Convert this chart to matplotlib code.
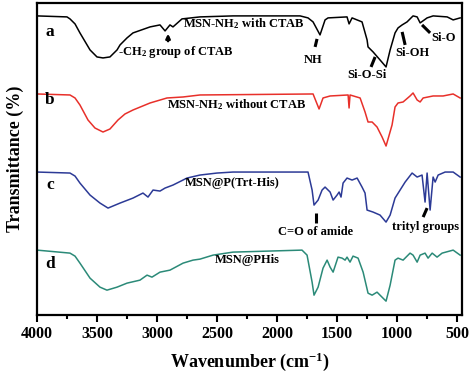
import matplotlib
matplotlib.use("Agg")
import matplotlib.pyplot as plt

plt.rcParams["font.family"] = ["Liberation Serif", "DejaVu Serif"]
plt.rcParams["font.weight"] = "bold"
plt.rcParams["mathtext.fontset"] = "custom"
plt.rcParams["mathtext.rm"] = "Liberation Serif:bold"
plt.rcParams["mathtext.bf"] = "Liberation Serif:bold"
plt.rcParams["mathtext.it"] = "Liberation Serif:italic:bold"

# spectra (wavenumber, transmittance in arbitrary offset units)
wn_a = [4000, 3750, 3725, 3683, 3642, 3558, 3500, 3450, 3392, 3333, 3308, 3250, 3200, 3058, 2975, 2933, 2892,
        2867, 2792, 2642, 2367, 1808, 1742, 1700, 1642, 1600, 1575, 1417, 1400, 1375, 1292, 1250,
        1242, 1200, 1142, 1092, 1058, 1017, 992, 958, 917, 867, 833, 808, 750, 700, 583, 533, 475]
t_a = [299, 298, 296, 291, 282, 265, 258, 257, 258, 265, 270, 277, 282, 288, 290, 284, 290,
       288, 296, 298, 299, 299, 297, 293, 280, 295, 297, 298, 291, 297, 293, 275,
       268, 263, 255, 248, 265, 282, 287, 290, 293, 299, 298, 292, 297, 299, 298, 295, 297]

wn_b = [4000, 3725, 3683, 3642, 3575, 3517, 3450, 3392, 3325, 3267, 3200, 3058, 2917, 2783, 2642, 1700, 1650,
        1617, 1558, 1408, 1400, 1392, 1308, 1267, 1242, 1208, 1167, 1125, 1092, 1042, 1017, 992,
        950, 892, 867, 833, 808, 783, 700, 617, 533, 475]
t_b = [221, 220, 217, 210, 195, 187, 183, 186, 195, 201, 205, 212, 217, 218, 220, 221, 206,
       217, 219, 220, 207, 220, 217, 203, 193, 193, 188, 178, 169, 190, 208, 212,
       213, 219, 222, 215, 213, 217, 219, 219, 221, 217]

wn_c = [4000, 3725, 3683, 3642, 3558, 3475, 3408, 3308, 3200, 3117, 3075, 3033, 2975, 2933, 2867, 2750,
        2642, 2500, 2367, 1742, 1708, 1692, 1658, 1625, 1600, 1558, 1533, 1500, 1483, 1467, 1450,
        1417, 1375, 1333, 1292, 1267, 1250, 1200, 1142, 1092, 1058, 1017, 975, 933, 875, 833,
        792, 767, 750, 725, 700, 683, 658, 600, 533, 475]
t_c = [143, 142, 139, 132, 120, 112, 107, 112, 117, 122, 118, 125, 124, 127, 130, 137,
       140, 142, 143, 143, 125, 110, 115, 125, 128, 123, 115, 120, 123, 118, 132,
       137, 135, 137, 128, 122, 105, 103, 100, 93, 100, 117, 125, 133, 142, 138,
       140, 113, 142, 105, 138, 133, 140, 143, 143, 138]

wn_d = [4000, 3725, 3683, 3642, 3558, 3475, 3417, 3333, 3250, 3142, 3083, 3042, 2975, 2892, 2783, 2700,
        2642, 2533, 2367, 1792, 1750, 1708, 1692, 1658, 1617, 1583, 1558, 1533, 1492, 1458, 1433,
        1417, 1392, 1367, 1325, 1283, 1242, 1208, 1167, 1142, 1092, 1058, 1017, 992, 950, 892,
        867, 833, 808, 767, 742, 708, 667, 625, 533, 475]
t_d = [65, 62, 59, 52, 37, 28, 25, 28, 32, 35, 40, 38, 43, 45, 52, 55,
       56, 60, 63, 65, 60, 33, 20, 28, 47, 55, 48, 43, 58, 57, 55,
       58, 53, 59, 57, 43, 22, 20, 23, 20, 14, 30, 55, 57, 55, 62,
       60, 53, 60, 62, 57, 62, 58, 62, 65, 60]

spectra = [
    (wn_a, t_a, "black", "a"),
    (wn_b, t_b, "#e8302a", "b"),
    (wn_c, t_c, "#2c3a96", "c"),
    (wn_d, t_d, "#2b8a78", "d"),
]
letter_y = [283, 215, 130, 51]

fig = plt.figure(figsize=(4.74, 3.77), dpi=100)
ax = fig.add_axes([0.078, 0.164, 0.897, 0.827])

for (wn, t, col, lab), ly in zip(spectra, letter_y):
    ax.plot(wn, t, color=col, lw=1.1)
    ax.text(3892, ly, lab, fontsize=12.5, fontweight="bold", ha="center", va="center")

fs = 9
ax.text(2783, 291, "MSN-NH$_2$ with CTAB", fontsize=fs, ha="left", va="center")
ax.text(3325, 263, "-CH$_2$ group of CTAB", fontsize=fs, ha="left", va="center")
ax.text(1700, 255, "NH", fontsize=fs, ha="center", va="center")
ax.text(1250, 240, "Si-O-Si", fontsize=fs, ha="center", va="center")
ax.text(875, 262, "Si-OH", fontsize=fs, ha="center", va="center")
ax.text(617, 277, "Si-O", fontsize=fs, ha="center", va="center")
ax.text(2917, 210, "MSN-NH$_2$ without CTAB", fontsize=fs, ha="left", va="center")
ax.text(2767, 132, "MSN@P(Trt-His)", fontsize=fs, ha="left", va="center")
ax.text(1683, 83, "C=O of amide", fontsize=fs, ha="center", va="center")
ax.text(767, 88, "trityl groups", fontsize=fs, ha="center", va="center")
ax.text(2517, 55, "MSN@PHis", fontsize=fs, ha="left", va="center")

# pointer marks
ax.annotate("", xy=(2908, 284), xytext=(2908, 271),
            arrowprops=dict(arrowstyle="-|>", color="black", lw=1.8, mutation_scale=6))
marks = [
    ((1667, 276), (1683, 268)),
    ((1183, 258), (1217, 248)),
    ((958, 283), (933, 270)),
    ((792, 290), (725, 282)),
    ((1675, 102), (1675, 92)),
    ((750, 107), (783, 98)),
]
for p0, p1 in marks:
    ax.plot([p0[0], p1[0]], [p0[1], p1[1]], color="black", lw=2.2, solid_capstyle="butt")

ax.set_xlim(4000, 458)
ax.set_ylim(0, 311.5)
ax.set_xticks([4000, 3500, 3000, 2500, 2000, 1500, 1000, 500])
ax.set_xticks([3750, 3250, 2750, 2250, 1750, 1250, 750], minor=True)
ax.set_yticks([])
ax.tick_params(axis="x", which="major", direction="out", length=5, width=1.5, labelsize=11.5, pad=3)
ax.tick_params(axis="x", which="minor", direction="out", length=3, width=1.5)
for lbl in ax.get_xticklabels():
    lbl.set_fontweight("bold")
for s in ax.spines.values():
    s.set_linewidth(1.6)

ax.set_xlabel("Wavenumber (cm$^{-1}$)", fontsize=13, fontweight="bold", labelpad=6)
ax.set_ylabel("Transmittance (%)", fontsize=13, fontweight="bold", labelpad=9)

fig.savefig("out.png", dpi=100)
